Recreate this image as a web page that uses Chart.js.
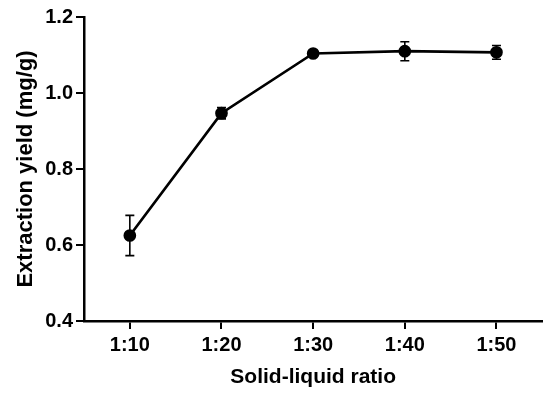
<!DOCTYPE html>
<html>
<head>
<meta charset="utf-8">
<script src="https://cdn.jsdelivr.net/npm/chart.js@4"></script>
<style>
html,body{margin:0;padding:0;background:#fff;}
#wrap{width:550px;height:394px;position:relative;}
</style>
</head>
<body>
<div id="wrap"><canvas id="c" width="550" height="394"></canvas></div>
<script>
const categories = ['1:10', '1:20', '1:30', '1:40', '1:50'];
const yieldValues = [0.625, 0.947, 1.104, 1.110, 1.107];
const yieldErrors = [0.053, 0.015, 0.004, 0.025, 0.018];
const yTicks = [0.4, 0.6, 0.8, 1.0, 1.2];

const FONT = '"Liberation Sans", Arial, sans-serif';

const errorBars = {
  id: 'errorBars',
  afterDatasetsDraw(chart) {
    const ctx = chart.ctx;
    const meta = chart.getDatasetMeta(0);
    const ys = chart.scales.y;
    ctx.save();
    ctx.strokeStyle = '#000';
    ctx.lineWidth = 1.6;
    meta.data.forEach((pt, i) => {
      const v = yieldValues[i], e = yieldErrors[i];
      const top = ys.getPixelForValue(v + e);
      const bot = ys.getPixelForValue(v - e);
      const x = pt.x;
      ctx.beginPath();
      ctx.moveTo(x, top); ctx.lineTo(x, bot);
      ctx.moveTo(x - 4.5, top); ctx.lineTo(x + 4.5, top);
      ctx.moveTo(x - 4.5, bot); ctx.lineTo(x + 4.5, bot);
      ctx.stroke();
    });
    ctx.restore();
  }
};

new Chart(document.getElementById('c'), {
  type: 'line',
  data: {
    labels: categories,
    datasets: [{
      data: yieldValues,
      borderColor: '#000',
      backgroundColor: '#000',
      borderWidth: 2.7,
      pointRadius: 5,
      pointBackgroundColor: '#000',
      pointBorderColor: '#000',
      tension: 0
    }]
  },
  options: {
    responsive: false,
    animation: false,
    devicePixelRatio: 1,
    layout: { padding: { top: 17, right: 7, left: 0, bottom: 0 } },
    plugins: { legend: { display: false }, tooltip: { enabled: false } },
    scales: {
      x: {
        offset: true,
        grid: { display: true, offset: false, drawOnChartArea: false, drawTicks: true, tickLength: 8, color: '#000', lineWidth: 2 },
        border: { display: true, color: '#000', width: 2.5 },
        ticks: { color: '#000', font: { family: FONT, size: 20, weight: 'bold' }, padding: 4, maxRotation: 0 },
        title: { display: true, text: 'Solid-liquid ratio', color: '#000', font: { family: FONT, size: 21, weight: 'bold' }, padding: { top: 0, bottom: 4 } },
        afterFit(scale) { scale.height = 73; }
      },
      y: {
        min: 0.4, max: 1.2,
        afterBuildTicks(scale) { scale.ticks = yTicks.map(v => ({ value: v })); },
        grid: { display: true, drawOnChartArea: false, drawTicks: true, tickLength: 8, color: '#000', lineWidth: 2 },
        border: { display: true, color: '#000', width: 2.5 },
        ticks: { color: '#000', font: { family: FONT, size: 20, weight: 'bold' }, padding: 3,
          callback: (v) => Number(v).toFixed(1) },
        title: { display: true, text: 'Extraction yield (mg/g)', color: '#000', font: { family: FONT, size: 22, weight: 'bold' }, padding: { top: 13, bottom: 0 } },
        afterFit(scale) { scale.width = 84; }
      }
    }
  },
  plugins: [errorBars]
});
</script>
</body>
</html>
